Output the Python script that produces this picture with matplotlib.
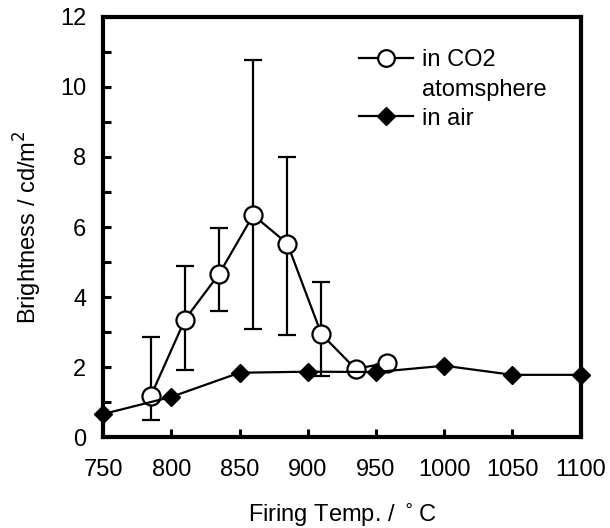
import matplotlib.pyplot as plt
from matplotlib.lines import Line2D
from matplotlib.ticker import MultipleLocator

plt.rcParams['font.family'] = ['Liberation Sans', 'DejaVu Sans']

# CO2 atmosphere series (open circles) + error bar bounds
co2_temp = [785, 810, 835, 860, 885, 910, 935, 958]
co2_bright = [1.18, 3.36, 4.66, 6.34, 5.53, 2.94, 1.95, 2.12]
# error bars only on the first six points
err_temp = [785, 810, 835, 860, 885, 910]
err_top = [2.86, 4.89, 5.96, 10.77, 7.99, 4.43]
err_bot = [0.49, 1.93, 3.60, 3.08, 2.91, 1.74]

# air series (filled diamonds)
air_temp = [750, 800, 850, 900, 950, 1000, 1050, 1100]
air_bright = [0.66, 1.15, 1.84, 1.87, 1.86, 2.04, 1.78, 1.78]

fig = plt.figure(figsize=(6.1, 5.28), dpi=100)
ax = fig.add_axes([0.169, 0.172, 0.783, 0.796])

yv = [co2_bright[i] for i in range(len(err_temp))]
lo = [yv[i] - err_bot[i] for i in range(len(yv))]
hi = [err_top[i] - yv[i] for i in range(len(yv))]
ax.errorbar(err_temp, yv, yerr=[lo, hi], fmt='none', ecolor='black',
            elinewidth=1.6, capsize=6.5, capthick=1.6, zorder=2)

ax.plot(co2_temp, co2_bright, '-o', color='black', lw=1.6, ms=13,
        mfc='white', mec='black', mew=1.6, zorder=3, clip_on=False)
ax.plot(air_temp, air_bright, '-D', color='black', lw=1.6, ms=9,
        mfc='black', mec='black', zorder=4, clip_on=False)

ax.set_xlim(750, 1100)
ax.set_ylim(0, 12)
ax.xaxis.set_major_locator(MultipleLocator(50))
ax.yaxis.set_major_locator(MultipleLocator(2))
ax.yaxis.set_minor_locator(MultipleLocator(1))
ax.tick_params(axis='both', which='both', direction='in', length=6, width=2.2,
               labelsize=17, top=False, right=False)
ax.tick_params(axis='x', pad=16)
ax.tick_params(axis='y', pad=12)
for s in ax.spines.values():
    s.set_linewidth(3)

ax.set_xlabel('Firing Temp. / $^\\circ$C', fontsize=17, labelpad=15)
ax.set_ylabel('Brightness / cd/m$^2$', fontsize=17, labelpad=12)

h1 = Line2D([], [], color='black', lw=1.6, marker='o', ms=12, mfc='white',
            mec='black', mew=1.6)
h2 = Line2D([], [], color='none')
h3 = Line2D([], [], color='black', lw=1.6, marker='D', ms=9, mfc='black')
ax.legend([h1, h2, h3], ['in CO2', 'atomsphere', 'in air'], loc='upper left',
          bbox_to_anchor=(0.515, 0.945), frameon=False, fontsize=17,
          handlelength=2.3, handletextpad=0.4, labelspacing=0.3,
          borderaxespad=0)

fig.savefig('out.png', dpi=100)
